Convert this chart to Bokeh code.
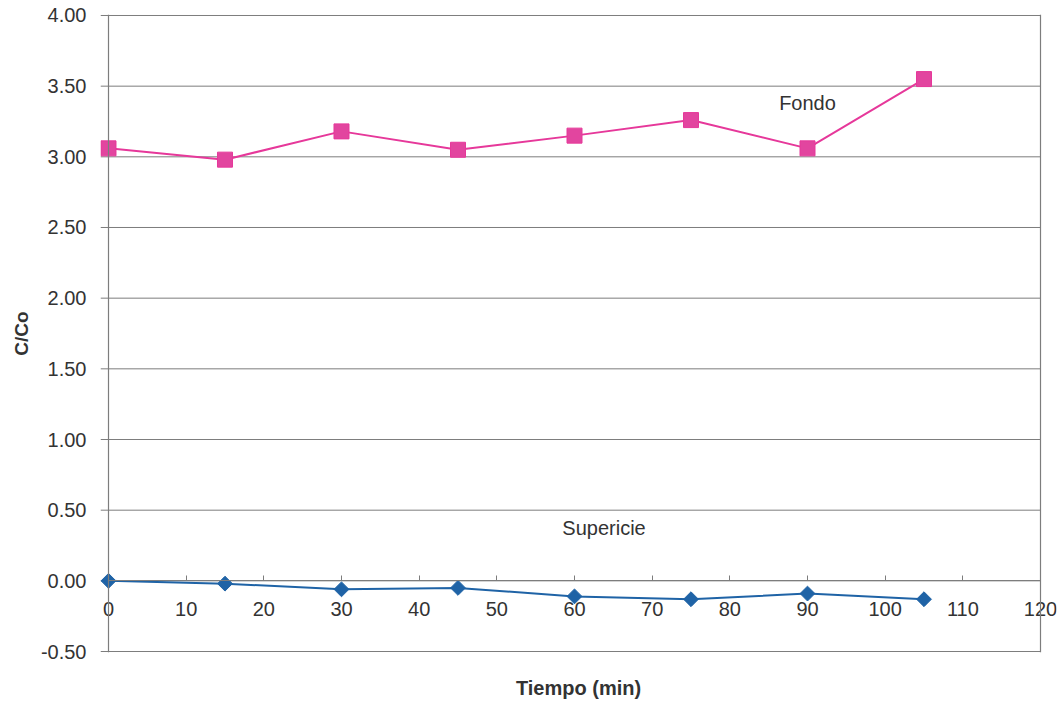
import math
from bokeh.plotting import figure
from bokeh.models import Range1d, NumeralTickFormatter, FixedTicker, Label, Span, LinearAxis
from bokeh.embed import file_html
from bokeh.resources import INLINE

tiempo = [0, 15, 30, 45, 60, 75, 90, 105]
fondo = [3.06, 2.98, 3.18, 3.05, 3.15, 3.26, 3.06, 3.55]
superficie = [0.00, -0.02, -0.06, -0.05, -0.11, -0.13, -0.09, -0.13]
x_ticks = [0, 10, 20, 30, 40, 50, 60, 70, 80, 90, 100, 110, 120]
y_ticks = [-0.5, 0.0, 0.5, 1.0, 1.5, 2.0, 2.5, 3.0, 3.5, 4.0]

FONT = "Liberation Sans"
TXT = "#333333"
GRID = "#7d7d7d"

# frame slightly wider than the drawn box so edge markers and labels are not clipped
x_lo, x_hi = x_ticks[0] - 1.03, x_ticks[-1] + 2.06
y_lo, y_hi = y_ticks[0] - 0.007, y_ticks[-1] + 0.007

p = figure(width=1059, height=701, output_backend="svg", toolbar_location=None,
           x_range=Range1d(x_lo, x_hi), y_range=Range1d(y_lo, y_hi),
           min_border_left=100, min_border_right=3, min_border_top=14, min_border_bottom=49)
p.background_fill_color = "white"
p.outline_line_color = None
p.xgrid.grid_line_color = None
p.ygrid.grid_line_color = None

# horizontal gridlines (extend a little left of the axis, like outward ticks)
p.segment(x0=[x_lo] * len(y_ticks), x1=[x_ticks[-1]] * len(y_ticks), y0=y_ticks, y1=y_ticks,
          line_color=GRID, line_width=1)
# left and right border of the plot box
p.add_layout(Span(location=x_ticks[0], dimension="height", line_color=GRID, line_width=1.2))
p.add_layout(Span(location=x_ticks[-1], dimension="height", line_color=GRID, line_width=1.2))

xa = p.xaxis[0]
xa.fixed_location = 0
xa.bounds = (x_ticks[0], x_ticks[-1])
xa.ticker = FixedTicker(ticks=x_ticks)
xa.axis_line_color = GRID
xa.major_tick_line_color = GRID
xa.major_tick_in = 5
xa.major_tick_out = 0
xa.minor_tick_line_color = None
xa.major_label_text_font = FONT
xa.major_label_text_font_size = "20px"
xa.major_label_text_color = TXT
xa.major_label_standoff = 21

# a tick-less axis below the box that only carries the x title
xt = LinearAxis(ticker=FixedTicker(ticks=[]), axis_line_color=None,
                major_tick_line_color=None, minor_tick_line_color=None,
                axis_label="Tiempo (min)", axis_label_text_font=FONT,
                axis_label_text_font_size="20px", axis_label_text_font_style="bold",
                axis_label_text_color=TXT, axis_label_standoff=24)
p.add_layout(xt, "below")

ya = p.yaxis[0]
ya.ticker = FixedTicker(ticks=y_ticks)
ya.formatter = NumeralTickFormatter(format="0.00")
ya.axis_line_color = None
ya.major_tick_line_color = None
ya.minor_tick_line_color = None
ya.major_label_text_font = FONT
ya.major_label_text_font_size = "20px"
ya.major_label_text_color = TXT
ya.major_label_standoff = 8
ya.axis_label = "C/Co"
ya.axis_label_text_font = FONT
ya.axis_label_text_font_size = "19px"
ya.axis_label_text_font_style = "bold"
ya.axis_label_text_color = TXT
ya.axis_label_standoff = 6

pink = "#E6389A"
blue = "#1F63A6"
p.line(tiempo, fondo, line_color=pink, line_width=2)
p.scatter(tiempo, fondo, marker="square", size=15, fill_color="#E2459F", line_color=pink)
p.line(tiempo, superficie, line_color=blue, line_width=2)
p.scatter(tiempo, superficie, marker="square", angle=math.pi / 4, size=10.5,
          fill_color=blue, line_color=blue)

p.add_layout(Label(x=90, y=3.38, text="Fondo", text_font=FONT, text_font_size="20px",
                   text_color=TXT, text_align="center", text_baseline="middle"))
p.add_layout(Label(x=63.8, y=0.375, text="Supericie", text_font=FONT, text_font_size="20px",
                   text_color=TXT, text_align="center", text_baseline="middle"))

open("out.html", "w").write(file_html(p, INLINE))
